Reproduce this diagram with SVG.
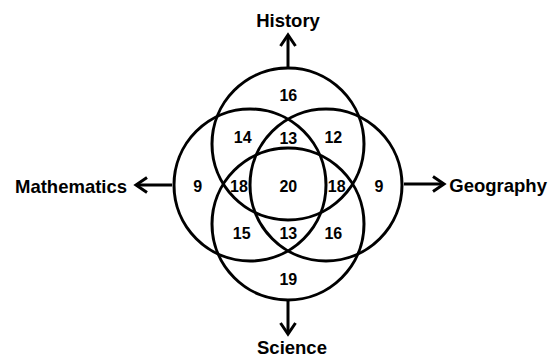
<svg xmlns="http://www.w3.org/2000/svg" width="555" height="357" viewBox="0 0 555 357">
<style>
.c{fill:none;stroke:#000;stroke-width:3}
.a{fill:none;stroke:#000;stroke-width:3}
.lbl{font-family:"Liberation Sans",Arial,sans-serif;font-weight:bold;font-size:18.5px;fill:#000}
.n{font-family:"Liberation Sans",Arial,sans-serif;font-weight:bold;font-size:16px;fill:#000;text-anchor:middle}
</style>
<defs>
<marker id="ah" markerUnits="userSpaceOnUse" markerWidth="30" markerHeight="30" refX="0" refY="0" viewBox="-15 -15 30 30" orient="auto" overflow="visible">
<path d="M-11,-7.5 L0,0 L-11,7.5" fill="none" stroke="#000" stroke-width="3" stroke-linejoin="miter"/>
</marker>
</defs>
<rect width="555" height="357" fill="#fff"/>
<g id="history"><circle class="c" cx="288" cy="144" r="76"/><text class="lbl" x="288" y="26.7" text-anchor="middle">History</text></g>
<g id="mathematics"><circle class="c" cx="250" cy="185" r="76"/><text class="lbl" x="15" y="192.5">Mathematics</text></g>
<g id="geography"><circle class="c" cx="326" cy="185" r="76"/><text class="lbl" x="449.3" y="191.7">Geography</text></g>
<g id="science"><circle class="c" cx="288" cy="224" r="76"/><text class="lbl" x="257" y="354">Science</text></g>
<g id="connectors">
<line class="a" x1="288" y1="68" x2="288" y2="35" marker-end="url(#ah)"/>
<line class="a" x1="172" y1="185" x2="136" y2="185" marker-end="url(#ah)"/>
<line class="a" x1="404" y1="184" x2="444" y2="184" marker-end="url(#ah)"/>
<line class="a" x1="288" y1="301" x2="288" y2="334" marker-end="url(#ah)"/>
</g>
<g id="counts">
<text class="n" x="288.3" y="101">16</text>
<text class="n" x="242.7" y="143">14</text>
<text class="n" x="288.3" y="144">13</text>
<text class="n" x="333.3" y="143">12</text>
<text class="n" x="197.7" y="191.5">9</text>
<text class="n" x="239" y="191.5">18</text>
<text class="n" x="288.3" y="191.5">20</text>
<text class="n" x="336.7" y="191.5">18</text>
<text class="n" x="379" y="191.5">9</text>
<text class="n" x="241.7" y="239">15</text>
<text class="n" x="288.3" y="239">13</text>
<text class="n" x="333.3" y="239">16</text>
<text class="n" x="288.3" y="284.7">19</text>
</g>
</svg>
